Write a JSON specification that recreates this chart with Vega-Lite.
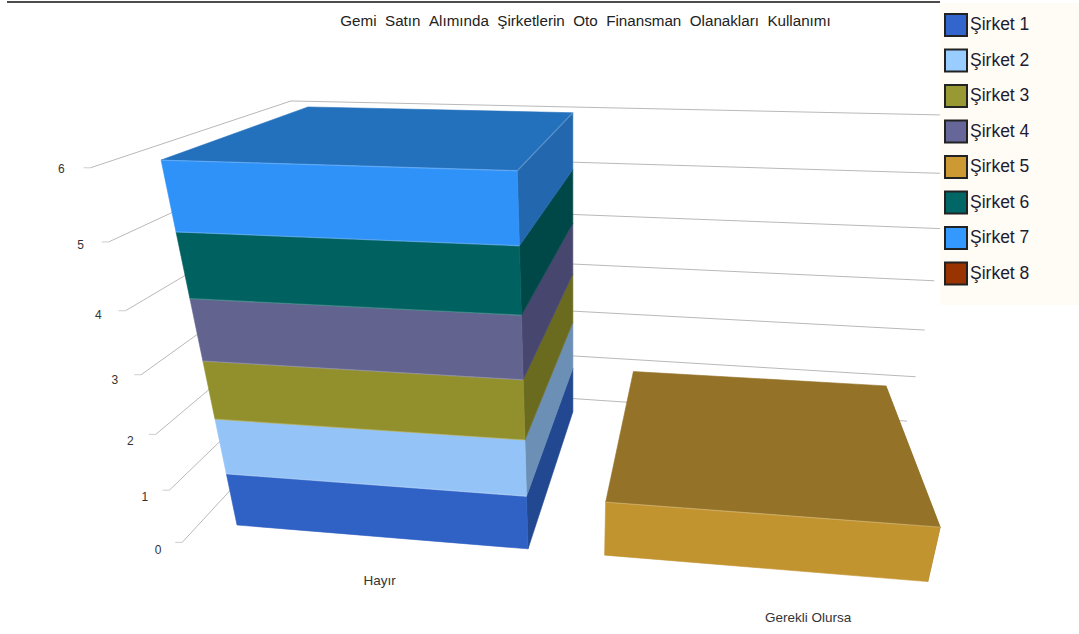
{
  "$schema": "https://vega.github.io/schema/vega-lite/v6.json",
  "width": 1079,
  "height": 634,
  "padding": 0,
  "autosize": {"type": "none"},
  "background": "#ffffff",
  "config": {"view": {"stroke": null}, "text": {"font": "Liberation Sans"}},
  "title": {
    "text": "Gemi \u00a0Satın \u00a0Alımında \u00a0Şirketlerin \u00a0Oto \u00a0Finansman \u00a0Olanakları \u00a0Kullanımı",
    "font": "Liberation Sans",
    "fontSize": 15.2,
    "fontWeight": "normal",
    "color": "#222222",
    "anchor": "middle",
    "dx": 46,
    "dy": 29,
    "offset": 0
  },
  "datasets": {
    "answers": [
      {"category": "Hayır", "series": "Şirket 1", "value": 1},
      {"category": "Hayır", "series": "Şirket 2", "value": 1},
      {"category": "Hayır", "series": "Şirket 3", "value": 1},
      {"category": "Hayır", "series": "Şirket 4", "value": 1},
      {"category": "Hayır", "series": "Şirket 5", "value": 0},
      {"category": "Hayır", "series": "Şirket 6", "value": 1},
      {"category": "Hayır", "series": "Şirket 7", "value": 1},
      {"category": "Hayır", "series": "Şirket 8", "value": 0},
      {"category": "Gerekli Olursa", "series": "Şirket 1", "value": 0},
      {"category": "Gerekli Olursa", "series": "Şirket 2", "value": 0},
      {"category": "Gerekli Olursa", "series": "Şirket 3", "value": 0},
      {"category": "Gerekli Olursa", "series": "Şirket 4", "value": 0},
      {"category": "Gerekli Olursa", "series": "Şirket 5", "value": 1},
      {"category": "Gerekli Olursa", "series": "Şirket 6", "value": 0},
      {"category": "Gerekli Olursa", "series": "Şirket 7", "value": 0},
      {"category": "Gerekli Olursa", "series": "Şirket 8", "value": 0}
    ],
    "categories": [
      {"category": "Hayır", "start": 0, "labelAt": 0.5},
      {"category": "Gerekli Olursa", "start": 1.25, "labelAt": 1.904}
    ],
    "ticks": [
      {"tick": 0}, {"tick": 1}, {"tick": 2}, {"tick": 3}, {"tick": 4}, {"tick": 5}, {"tick": 6}
    ]
  },
  "encoding": {
    "x": {"field": "px", "type": "quantitative", "axis": null, "scale": {"domain": [0, 1079], "nice": false, "zero": false}},
    "y": {"field": "py", "type": "quantitative", "axis": null, "scale": {"domain": [0, 634], "nice": false, "zero": false, "reverse": true}}
  },
  "layer": [
    {
      "description": "Side wall and back wall gridlines",
      "data": {"name": "ticks"},
      "transform": [
        {"calculate": "[{i:0,u:-0.13,w:-0.12},{i:1,u:-0.13,w:1.143},{i:2,u:2.38,w:1.09}]", "as": "path"},
        {"flatten": ["path"]},
        {"calculate": "(237+269.9*datum.path.u-17.6*datum.tick+209.2*datum.path.w)/(1-0.04*datum.path.u-0.0307*datum.tick+0.29*datum.path.w)", "as": "px"},
        {"calculate": "(525+1.08*datum.path.u-65.74*datum.tick-12.3*datum.path.w)/(1-0.04*datum.path.u-0.0307*datum.tick+0.29*datum.path.w)", "as": "py"},
        {"calculate": "datum.path.i", "as": "step"}
      ],
      "mark": {"type": "line", "color": "#b9b9b9", "strokeWidth": 1},
      "encoding": {
        "detail": {"field": "tick", "type": "nominal"},
        "order": {"field": "step", "type": "quantitative"}
      }
    },
    {
      "description": "Short flat lead-in at the front of each wall gridline",
      "data": {"name": "ticks"},
      "transform": [
        {"calculate": "(237+269.9*-0.13-17.6*datum.tick+209.2*-0.12)/(1-0.04*-0.13-0.0307*datum.tick+0.29*-0.12)", "as": "px"},
        {"calculate": "(525+1.08*-0.13-65.74*datum.tick-12.3*-0.12)/(1-0.04*-0.13-0.0307*datum.tick+0.29*-0.12)", "as": "py"}
      ],
      "mark": {"type": "tick", "orient": "horizontal", "size": 7, "thickness": 1, "color": "#b9b9b9", "xOffset": -3.5}
    },
    {
      "description": "Value labels beside the side wall",
      "data": {"name": "ticks"},
      "transform": [
        {"calculate": "(237+269.9*-0.13-17.6*datum.tick+209.2*-0.19)/(1-0.04*-0.13-0.0307*datum.tick+0.29*-0.19)", "as": "px"},
        {"calculate": "(525+1.08*-0.13-65.74*datum.tick-12.3*-0.19)/(1-0.04*-0.13-0.0307*datum.tick+0.29*-0.19)", "as": "py"}
      ],
      "mark": {"type": "text", "fontSize": 12, "color": "#333333", "dx": -12.5, "dy": -4.5, "align": "center", "baseline": "middle"},
      "encoding": {"text": {"field": "tick", "type": "nominal"}}
    },
    {
      "description": "Category names under the bars",
      "data": {"name": "categories"},
      "transform": [
        {"calculate": "(237+269.9*datum.labelAt+13.2-9.4)/(1-0.04*datum.labelAt+0.023-0.013)", "as": "px"},
        {"calculate": "(525+1.08*datum.labelAt+49.3+0.55)/(1-0.04*datum.labelAt+0.023-0.013)", "as": "py"}
      ],
      "mark": {"type": "text", "fontSize": 13.5, "color": "#333333", "align": "center", "baseline": "middle"},
      "encoding": {"text": {"field": "category", "type": "nominal"}}
    },
    {
      "description": "Stacked blocks: one polygon per visible face, drawn back to front",
      "data": {"name": "answers"},
      "transform": [
        {"stack": "value", "groupby": ["category"], "sort": [{"field": "series", "order": "ascending"}], "as": ["v0", "v1"]},
        {"filter": "datum.value > 0"},
        {"lookup": "category", "from": {"data": {"name": "categories"}, "key": "category", "fields": ["start"]}},
        {"joinaggregate": [{"op": "max", "field": "v1", "as": "topV"}], "groupby": ["category"]},
        {"calculate": "[{f:'side',i:0,u:datum.start+1,v:datum.v0,w:0},{f:'side',i:1,u:datum.start+1,v:datum.v1,w:0},{f:'side',i:2,u:datum.start+1,v:datum.v1,w:1},{f:'side',i:3,u:datum.start+1,v:datum.v0,w:1},{f:'top',i:0,u:datum.start,v:datum.v1,w:0},{f:'top',i:1,u:datum.start+1,v:datum.v1,w:0},{f:'top',i:2,u:datum.start+1,v:datum.v1,w:1},{f:'top',i:3,u:datum.start,v:datum.v1,w:1},{f:'front',i:0,u:datum.start,v:datum.v0,w:0},{f:'front',i:1,u:datum.start+1,v:datum.v0,w:0},{f:'front',i:2,u:datum.start+1,v:datum.v1,w:0},{f:'front',i:3,u:datum.start,v:datum.v1,w:0},{f:'rim',i:0,u:datum.start,v:datum.v1,w:0},{f:'rim',i:1,u:datum.start+1,v:datum.v1,w:0},{f:'rim',i:2,u:datum.start+1,v:datum.v1,w:1}]", "as": "corner"},
        {"flatten": ["corner"]},
        {"calculate": "datum.corner.f", "as": "face"},
        {"calculate": "datum.corner.i", "as": "step"},
        {"filter": "datum.face != 'top' || datum.v1 == datum.topV"},
        {"filter": "datum.face != 'rim' || datum.step < 2 || (datum.v1 == datum.topV && datum.start == 0)"},
        {"calculate": "(237+269.9*datum.corner.u-17.6*datum.corner.v+209.2*datum.corner.w)/(1-0.04*datum.corner.u-0.0307*datum.corner.v+0.29*datum.corner.w)", "as": "px"},
        {"calculate": "(525+1.9*datum.corner.u-65.74*datum.corner.v-12.3*datum.corner.w)/(1-0.04*datum.corner.u-0.0307*datum.corner.v+0.29*datum.corner.w)", "as": "py"}
      ],
      "layer": [
        {
          "transform": [{"filter": "datum.face == 'side'"}],
          "mark": {"type": "line", "interpolate": "linear-closed", "strokeWidth": 0.6},
          "encoding": {
            "order": {"field": "step", "type": "quantitative"},
            "fill": {"field": "series", "type": "nominal", "legend": null, "scale": {"domain": ["Şirket 1", "Şirket 2", "Şirket 3", "Şirket 4", "Şirket 5", "Şirket 6", "Şirket 7", "Şirket 8"], "range": ["#214890", "#6b8fb5", "#6b6b20", "#46466e", "#937228", "#004848", "#2368ae", "#6b2400"]}},
            "stroke": {"field": "series", "type": "nominal", "legend": null, "scale": {"domain": ["Şirket 1", "Şirket 2", "Şirket 3", "Şirket 4", "Şirket 5", "Şirket 6", "Şirket 7", "Şirket 8"], "range": ["#214890", "#6b8fb5", "#6b6b20", "#46466e", "#937228", "#004848", "#2368ae", "#6b2400"]}}
          }
        },
        {
          "transform": [{"filter": "datum.face == 'top'"}],
          "mark": {"type": "line", "interpolate": "linear-closed", "strokeWidth": 0.6},
          "encoding": {
            "order": {"field": "step", "type": "quantitative"},
            "fill": {"field": "series", "type": "nominal", "legend": null, "scale": {"domain": ["Şirket 1", "Şirket 2", "Şirket 3", "Şirket 4", "Şirket 5", "Şirket 6", "Şirket 7", "Şirket 8"], "range": ["#214890", "#6b8fb5", "#6b6b20", "#46466e", "#947228", "#004848", "#2370bc", "#6b2400"]}},
            "stroke": {"field": "series", "type": "nominal", "legend": null, "scale": {"domain": ["Şirket 1", "Şirket 2", "Şirket 3", "Şirket 4", "Şirket 5", "Şirket 6", "Şirket 7", "Şirket 8"], "range": ["#214890", "#6b8fb5", "#6b6b20", "#46466e", "#947228", "#004848", "#2370bc", "#6b2400"]}}
          }
        },
        {
          "transform": [{"filter": "datum.face == 'front'"}],
          "mark": {"type": "line", "interpolate": "linear-closed", "strokeWidth": 0.6},
          "encoding": {
            "order": {"field": "step", "type": "quantitative"},
            "fill": {"field": "series", "type": "nominal", "legend": null, "scale": {"domain": ["Şirket 1", "Şirket 2", "Şirket 3", "Şirket 4", "Şirket 5", "Şirket 6", "Şirket 7", "Şirket 8"], "range": ["#3061c4", "#93c3f7", "#92902d", "#636390", "#c29430", "#006260", "#2f92f8", "#933000"]}},
            "stroke": {"field": "series", "type": "nominal", "legend": null, "scale": {"domain": ["Şirket 1", "Şirket 2", "Şirket 3", "Şirket 4", "Şirket 5", "Şirket 6", "Şirket 7", "Şirket 8"], "range": ["#3061c4", "#93c3f7", "#92902d", "#636390", "#c29430", "#006260", "#2f92f8", "#933000"]}}
          }
        },
        {
          "description": "Pale highlight along the upper edges of the blocks",
          "transform": [{"filter": "datum.face == 'rim'"}],
          "mark": {"type": "line", "color": "#ffffff", "opacity": 0.2, "strokeWidth": 1.3},
          "encoding": {
            "order": {"field": "step", "type": "quantitative"},
            "detail": {"field": "series", "type": "nominal"}
          }
        }
      ],
      "resolve": {"scale": {"fill": "independent", "stroke": "independent"}}
    },
    {
      "description": "Frame line along the top edge",
      "data": {"values": [{"part": "frame"}]},
      "transform": [
        {"calculate": "7", "as": "fromX"},
        {"calculate": "940", "as": "toX"},
        {"calculate": "2", "as": "atY"}
      ],
      "mark": {"type": "rule", "color": "#111111", "strokeWidth": 1.5},
      "encoding": {
        "x": {"field": "fromX", "type": "quantitative"},
        "x2": {"field": "toX"},
        "y": {"field": "atY", "type": "quantitative"}
      }
    },
    {
      "description": "Panel behind the legend",
      "data": {"values": [{"part": "panel"}]},
      "transform": [
        {"calculate": "940", "as": "fromX"},
        {"calculate": "1079", "as": "toX"},
        {"calculate": "3", "as": "fromY"},
        {"calculate": "305", "as": "toY"}
      ],
      "mark": {"type": "rect", "color": "#fffbf5"},
      "encoding": {
        "x": {"field": "fromX", "type": "quantitative"},
        "x2": {"field": "toX"},
        "y": {"field": "fromY", "type": "quantitative"},
        "y2": {"field": "toY"}
      }
    },
    {
      "description": "Carrier of the series legend",
      "data": {"name": "answers"},
      "transform": [{"calculate": "0", "as": "px"}, {"calculate": "0", "as": "py"}],
      "mark": {"type": "square", "size": 0, "filled": true, "opacity": 1},
      "encoding": {
        "fill": {
          "field": "series",
          "type": "nominal",
          "scale": {"domain": ["Şirket 1", "Şirket 2", "Şirket 3", "Şirket 4", "Şirket 5", "Şirket 6", "Şirket 7", "Şirket 8"], "range": ["#3366cc", "#99ccff", "#999933", "#666699", "#cc9933", "#006666", "#3399ff", "#993300"]},
          "legend": {
            "title": null,
            "orient": "none",
            "legendX": 940,
            "legendY": 9,
            "padding": 4,
            "symbolType": "square",
            "symbolSize": 484,
            "symbolOpacity": 1,
            "symbolStrokeColor": "#222222",
            "symbolStrokeWidth": 2,
            "labelFont": "Liberation Sans",
            "labelFontSize": 17.5,
            "labelColor": "#1c1c33",
            "labelOffset": 2,
            "rowPadding": 5.5
          }
        }
      }
    }
  ],
  "resolve": {"scale": {"fill": "independent", "stroke": "independent"}}
}
